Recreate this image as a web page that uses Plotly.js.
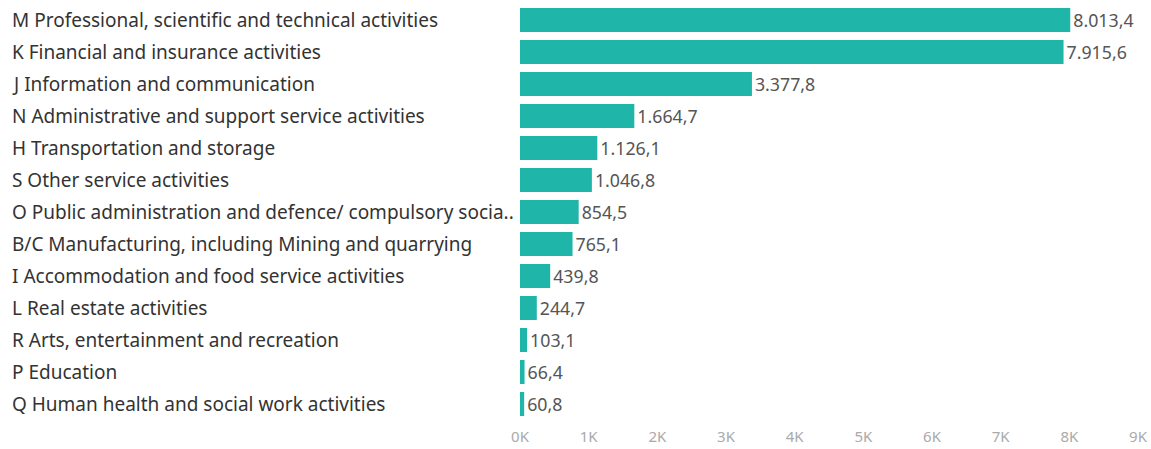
<!DOCTYPE html>
<html>
<head>
<meta charset="utf-8">
<script src="https://cdn.plot.ly/plotly-3.0.1.min.js"></script>
<style>html,body{margin:0;padding:0;background:#fff;}#chart{width:1151px;height:449px;}</style>
</head>
<body>
<div id="chart"></div>
<script>
const categories = [
  "M Professional, scientific and technical activities",
  "K Financial and insurance activities",
  "J Information and communication",
  "N Administrative and support service activities",
  "H Transportation and storage",
  "S Other service activities",
  "O Public administration and defence/ compulsory socia..",
  "B/C Manufacturing, including Mining and quarrying",
  "I Accommodation and food service activities",
  "L Real estate activities",
  "R Arts, entertainment and recreation",
  "P Education",
  "Q Human health and social work activities"
];
const values = [8013.4, 7915.6, 3377.8, 1664.7, 1126.1, 1046.8, 854.5, 765.1, 439.8, 244.7, 103.1, 66.4, 60.8];
const tickValues = [0, 1000, 2000, 3000, 4000, 5000, 6000, 7000, 8000, 9000];
const tickLabels = ["0K", "1K", "2K", "3K", "4K", "5K", "6K", "7K", "8K", "9K"];

const FONT = "Noto Sans, Open Sans, sans-serif";

const trace = {
  type: "bar",
  orientation: "h",
  y: categories,
  x: values,
  width: 0.75,
  marker: {color: "#1fb5a9"},
  texttemplate: "%{x:,.1f}",
  textposition: "outside",
  cliponaxis: false,
  textfont: {family: FONT, size: 18.5, color: "#555555"},
  hoverinfo: "none"
};

const annotations = categories.map(c => ({
  xref: "paper", yref: "y",
  x: 0, y: c,
  xanchor: "left", yanchor: "middle",
  xshift: -510,
  text: c,
  showarrow: false,
  font: {family: FONT, size: 19, color: "#333333"}
}));

const layout = {
  width: 1151, height: 449,
  margin: {l: 520, r: 13, t: 4, b: 29},
  paper_bgcolor: "#ffffff",
  plot_bgcolor: "#ffffff",
  separators: ",.",
  showlegend: false,
  xaxis: {
    range: [0, 9000],
    tickvals: tickValues,
    ticktext: tickLabels,
    showgrid: false, zeroline: false, showline: false,
    ticklabelstandoff: 6,
    tickfont: {family: FONT, size: 15, color: "#aaaaaa"},
    fixedrange: true
  },
  yaxis: {
    type: "category",
    range: [12.5, -0.5],
    showticklabels: false,
    showgrid: false, zeroline: false, showline: false,
    fixedrange: true
  },
  annotations: annotations
};

Plotly.newPlot("chart", [trace], layout, {displayModeBar: false, staticPlot: true});
</script>
</body>
</html>
